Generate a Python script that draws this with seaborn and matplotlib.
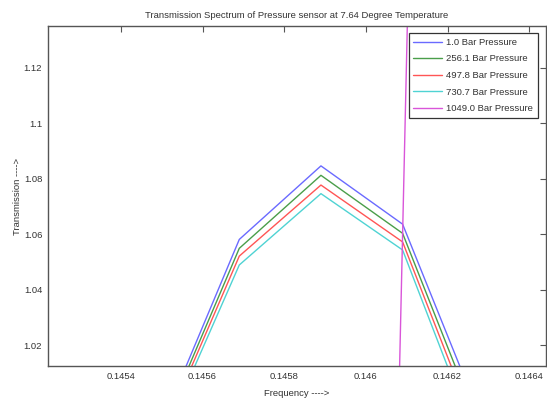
import matplotlib
matplotlib.use("Agg")
import matplotlib.pyplot as plt
import seaborn as sns
import pandas as pd

# Data
frequency = [0.14549, 0.14569, 0.14589, 0.14609, 0.14629]
series_labels = ["1.0 Bar Pressure", "256.1 Bar Pressure", "497.8 Bar Pressure",
                 "730.7 Bar Pressure", "1049.0 Bar Pressure"]
p_1_0 = [0.988, 1.0581, 1.0846, 1.0636, 0.9906]
p_256_1 = [0.986, 1.0549, 1.0812, 1.0603, 0.986]
p_497_8 = [0.984, 1.0521, 1.0777, 1.0572, 0.982]
p_730_7 = [0.982, 1.0489, 1.0746, 1.0543, 0.978]
p_1049_0 = [-0.30, -0.30, -0.24, 1.06, 2.36]
x_ticks = [0.1454, 0.1456, 0.1458, 0.1460, 0.1462, 0.1464]
x_tick_labels = ["0.1454", "0.1456", "0.1458", "0.146", "0.1462", "0.1464"]
y_ticks = [1.02, 1.04, 1.06, 1.08, 1.10, 1.12]
y_tick_labels = ["1.02", "1.04", "1.06", "1.08", "1.1", "1.12"]

colors = ["#6a6aff", "#4a9e4a", "#ff5555", "#4fd3d3", "#d955d9"]

frames = []
for lab, vals in zip(series_labels, [p_1_0, p_256_1, p_497_8, p_730_7, p_1049_0]):
    frames.append(pd.DataFrame({"Frequency": frequency, "Transmission": vals, "Series": lab}))
df = pd.concat(frames, ignore_index=True)

sns.set_theme(style="white")
plt.rcParams["font.family"] = ["Liberation Sans", "DejaVu Sans"]

fig = plt.figure(figsize=(5.47, 4.0), dpi=100)
ax = fig.add_axes([0.0874, 0.085, 0.9106, 0.85])

sns.lineplot(data=df, x="Frequency", y="Transmission", hue="Series",
             hue_order=series_labels, palette=colors, estimator=None,
             sort=False, linewidth=1.0, ax=ax)

ax.set_xlim(0.145221, 0.146441)
ax.set_ylim(1.0125, 1.135)
ax.set_xticks(x_ticks)
ax.set_xticklabels(x_tick_labels)
ax.set_yticks(y_ticks)
ax.set_yticklabels(y_tick_labels)

label_color = "#333333"
ax.tick_params(axis="both", direction="in", length=4, width=0.8, colors="#555555",
               labelcolor=label_color, labelsize=6.8, top=True, right=True, pad=4)
for s in ax.spines.values():
    s.set_color("#555555")
    s.set_linewidth(1.0)

ax.set_xlabel("Frequency ---->", fontsize=6.8, color=label_color, labelpad=6)
ax.set_ylabel("Transmission ---->", fontsize=6.8, color=label_color, labelpad=1)
ax.set_title("Transmission Spectrum of Pressure sensor at 7.64 Degree Temperature",
             fontsize=6.8, color=label_color, pad=6)

leg = ax.legend(loc="upper right", bbox_to_anchor=(0.984, 0.979), fontsize=6.8,
                frameon=True, fancybox=False, framealpha=1.0, edgecolor="#333333",
                handlelength=3.0, handletextpad=0.5, labelspacing=0.8,
                borderpad=0.5, borderaxespad=0.0)
leg.get_frame().set_linewidth(0.9)
for t in leg.get_texts():
    t.set_color(label_color)

fig.savefig("out.png", dpi=100)
